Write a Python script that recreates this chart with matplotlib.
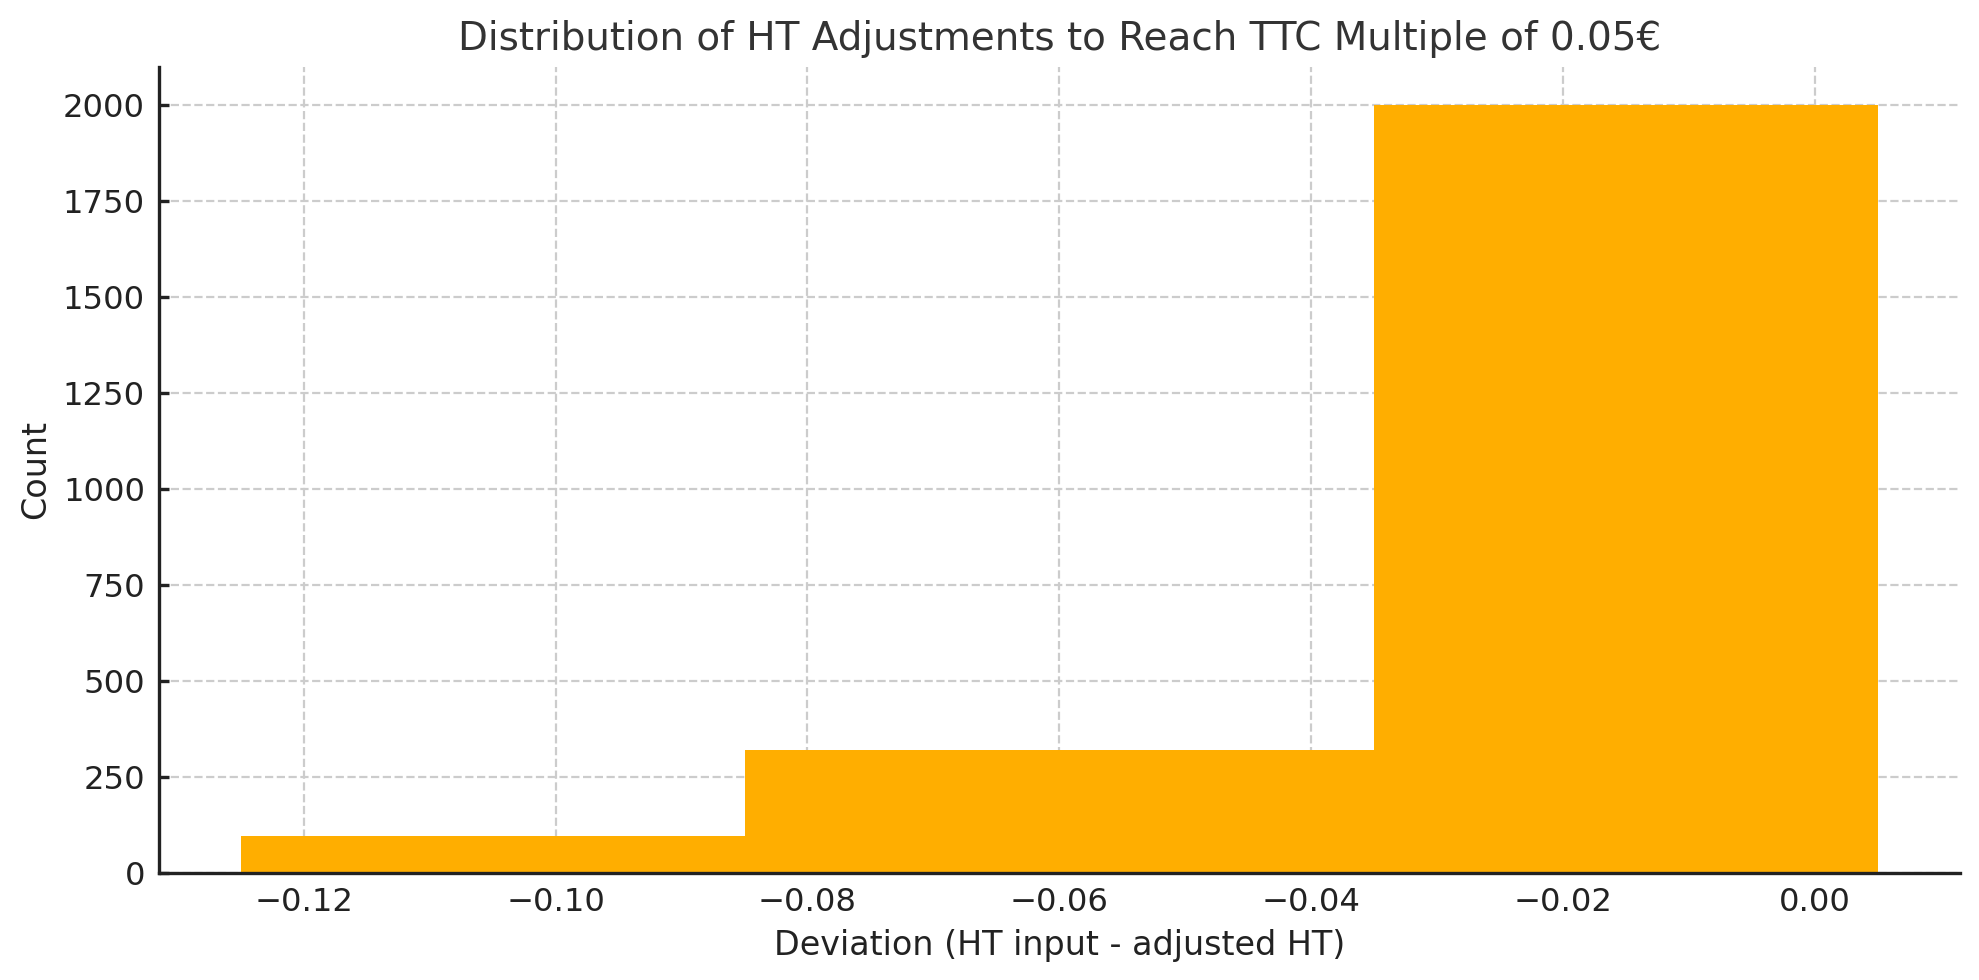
import matplotlib
matplotlib.use("Agg")
import matplotlib.pyplot as plt

# bin edges and counts
bin_edges = [-0.125, -0.085, -0.035, 0.005]
counts = [98, 320, 2000]

plt.rcParams["font.family"] = "DejaVu Sans"

fig = plt.figure(figsize=(9.895, 4.9), dpi=200)
ax = fig.add_axes([0.0803, 0.109, 0.910, 0.823])

ax.hist(bin_edges[:-1], bins=bin_edges, weights=counts, color="#FFAE00", zorder=2)

ax.set_title("Distribution of HT Adjustments to Reach TTC Multiple of 0.05€",
             fontsize=14, color="#333333", pad=6)
ax.set_xlabel("Deviation (HT input - adjusted HT)", fontsize=12, color="#222222")
ax.set_ylabel("Count", fontsize=12, color="#222222")

ax.grid(True, linestyle="--", color="#cccccc", linewidth=0.8, zorder=3)
ax.spines["top"].set_visible(False)
ax.spines["right"].set_visible(False)
for s in ["left", "bottom"]:
    ax.spines[s].set_linewidth(1.2)
    ax.spines[s].set_color("#222222")
    ax.spines[s].set_zorder(5)
ax.tick_params(labelsize=11.6, colors="#222222", width=1.2, length=3.5,
               direction="in", pad=5)

fig.savefig("out.png", dpi=200)
